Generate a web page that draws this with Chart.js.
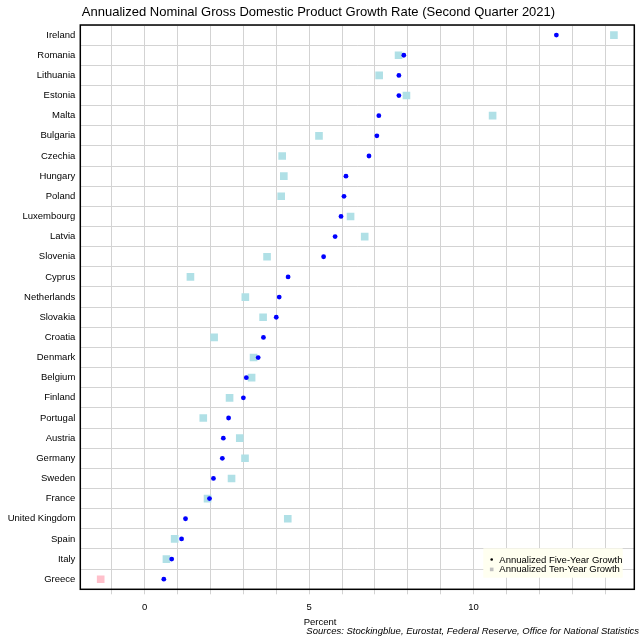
<!DOCTYPE html>
<html>
<head>
<meta charset="utf-8">
<script src="https://cdn.jsdelivr.net/npm/chart.js@4.4.1/dist/chart.umd.min.js"></script>
<style>
html,body{margin:0;padding:0;background:#fff;}
canvas{display:block;}
</style>
</head>
<body>
<canvas id="c" width="640" height="640"></canvas>
<script>
const titleText = "Annualized Nominal Gross Domestic Product Growth Rate (Second Quarter 2021)";
const xAxisTitle = "Percent";
const sourcesText = "Sources: Stockingblue, Eurostat, Federal Reserve, Office for National Statistics";
const countries = ["Ireland","Romania","Lithuania","Estonia","Malta","Bulgaria","Czechia","Hungary","Poland","Luxembourg","Latvia","Slovenia","Cyprus","Netherlands","Slovakia","Croatia","Denmark","Belgium","Finland","Portugal","Austria","Germany","Sweden","France","United Kingdom","Spain","Italy","Greece"];
const fiveYear = [12.52,7.88,7.73,7.73,7.12,7.06,6.82,6.12,6.06,5.97,5.79,5.44,4.36,4.09,4.00,3.61,3.45,3.09,3.00,2.55,2.39,2.36,2.09,1.97,1.24,1.12,0.82,0.58];
const tenYear = [14.27,7.72,7.13,7.96,10.58,5.30,4.18,4.23,4.15,6.26,6.69,3.72,1.39,3.06,3.60,2.11,3.31,3.25,2.58,1.78,2.89,3.05,2.64,1.91,4.35,0.91,0.66,-1.34];
const seriesLabels = ["Annualized Five-Year Growth","Annualized Ten-Year Growth"];
const xTickValues = [-1,0,1,2,3,4,5,6,7,8,9,10,11,12,13,14];
const xTickLabels = {0:"0",5:"5",10:"10"};

const FONT = '"Liberation Sans", Arial, sans-serif';
const SMALL = 9.5;

const extras = {
  id: 'extras',
  afterDraw(chart) {
    const ctx = chart.ctx;
    const a = chart.chartArea;
    ctx.save();
    ctx.strokeStyle = '#000';
    ctx.lineWidth = 1.5;
    ctx.strokeRect(a.left, a.top, a.right - a.left, a.bottom - a.top);
    ctx.fillStyle = '#000';
    ctx.textAlign = 'center';
    ctx.textBaseline = 'alphabetic';
    ctx.font = '13px ' + FONT;
    ctx.fillText(titleText, 318.5, 16);
    ctx.font = SMALL + 'px ' + FONT;
    ctx.fillText(xAxisTitle, 320, 625);
    ctx.font = 'italic ' + SMALL + 'px ' + FONT;
    ctx.textAlign = 'right';
    ctx.fillText(sourcesText, 639, 634);
    const lx = 483.3, ly = 548.3, lw = 139.4, lh = 29.4;
    ctx.fillStyle = '#FFFFF0';
    ctx.fillRect(lx, ly, lw, lh);
    ctx.font = SMALL + 'px ' + FONT;
    ctx.textAlign = 'left';
    ctx.textBaseline = 'middle';
    ctx.fillStyle = '#000';
    ctx.fillText(chart.data.datasets[0].label, 499.3, 560);
    ctx.fillText(chart.data.datasets[1].label, 499.3, 569.7);
    ctx.beginPath();
    ctx.arc(491.7, 559.5, 1.3, 0, Math.PI * 2);
    ctx.fill();
    ctx.fillStyle = '#BEBEBE';
    ctx.fillRect(489.9, 567.6, 3.6, 3.6);
    ctx.restore();
  }
};

new Chart(document.getElementById('c'), {
  type: 'line',
  data: {
    labels: countries,
    datasets: [
      {
        label: seriesLabels[0],
        data: fiveYear,
        showLine: false,
        pointStyle: 'circle',
        pointRadius: 2.4,
        pointBorderWidth: 0,
        pointBackgroundColor: '#0000FF',
        pointBorderColor: '#0000FF',
        order: 0
      },
      {
        label: seriesLabels[1],
        data: tenYear,
        showLine: false,
        pointStyle: 'rect',
        pointRadius: 5.4,
        pointBorderWidth: 0,
        pointBackgroundColor: tenYear.map(v => v < 0 ? '#FFC0CB' : '#B0E0E6'),
        pointBorderColor: 'rgba(0,0,0,0)',
        order: 1
      }
    ]
  },
  options: {
    indexAxis: 'y',
    responsive: false,
    animation: false,
    devicePixelRatio: 1,
    layout: { padding: { top: 25, right: 5.7, left: 0, bottom: 0 } },
    plugins: {
      legend: { display: false },
      tooltip: { enabled: false },
      title: { display: false }
    },
    elements: { point: { hoverRadius: 0 } },
    scales: {
      x: {
        type: 'linear',
        position: 'bottom',
        min: -1.96,
        max: 14.89,
        afterBuildTicks: s => { s.ticks = xTickValues.map(v => ({ value: v })); },
        afterFit: s => { s.height = 50.7; },
        grid: { color: '#D3D3D3', lineWidth: 1, drawTicks: true, tickLength: 5, tickColor: '#D3D3D3' },
        border: { display: false },
        ticks: {
          autoSkip: false,
          maxRotation: 0,
          padding: 7,
          color: '#000',
          font: { family: FONT, size: SMALL },
          callback: v => (xTickLabels[v] !== undefined ? xTickLabels[v] : '')
        }
      },
      y: {
        type: 'category',
        offset: true,
        afterFit: s => { s.width = 80.3; },
        grid: { color: '#D3D3D3', lineWidth: 1, offset: true, drawTicks: false },
        border: { display: false },
        ticks: {
          autoSkip: false,
          padding: 5,
          color: '#000',
          font: { family: FONT, size: SMALL }
        }
      }
    }
  },
  plugins: [extras]
});
</script>
</body>
</html>
